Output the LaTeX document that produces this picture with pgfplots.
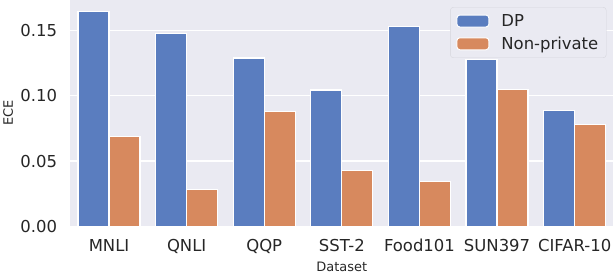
\documentclass[border=0pt]{standalone}
\usepackage{fontspec}
\setmainfont{DejaVu Sans}
\usepackage{pgfplots}
\pgfplotsset{compat=1.18}
\definecolor{bgc}{HTML}{EAEAF2}
\definecolor{dpc}{HTML}{5A7DBF}
\definecolor{npc}{HTML}{D7895E}
\definecolor{txt}{HTML}{262626}
\definecolor{legedge}{HTML}{D5D5DC}
\begin{document}
\begin{tikzpicture}
\begin{axis}[
  width=543bp, height=226bp, scale only axis,
  xmin=-0.5, xmax=6.5, ymin=0, ymax=0.1735,
  axis background/.style={fill=bgc},
  axis line style={draw=none},
  ymajorgrids, grid style={white, line width=1.1bp},
  xtick={0,1,2,3,4,5,6},
  xticklabels={MNLI,QNLI,QQP,SST-2,Food101,SUN397,CIFAR-10},
  ytick={0,0.05,0.1,0.15},
  major tick length=0pt,
  tick label style={font=\fontsize{16.5}{19}\selectfont, text=txt, inner sep=0pt},
  yticklabel style={/pgf/number format/fixed,/pgf/number format/fixed zerofill,/pgf/number format/precision=2},
  /pgf/number format/assume math mode=true,
  yticklabel shift=13bp,
  xticklabel shift=13bp,
  every axis y label/.style={at={(rel axis cs:0,0.5)}, xshift=-62bp, rotate=90, anchor=center, font=\fontsize{13}{15}\selectfont, text=txt},
  every axis x label/.style={at={(rel axis cs:0.5,0)}, yshift=-41bp, anchor=center, font=\fontsize{13}{15}\selectfont, text=txt},
  ylabel={ECE}, xlabel={Dataset},
  ybar, bar width=0.4,
  legend style={at={(rel axis cs:1,1)}, anchor=north east, xshift=-7bp, yshift=-7bp,
    fill=bgc, draw=legedge, rounded corners=3bp, font=\fontsize{16.5}{19}\selectfont, text=txt,
    row sep=5bp, inner xsep=6bp, inner ysep=5bp,
    /tikz/every odd column/.append style={column sep=10bp}},
  legend cell align=left,
]
\addplot[fill=dpc, draw=white, line width=1.2bp, bar shift=-0.2,
  legend image code/.code={\draw[fill=dpc, draw=white, line width=1bp] (0bp,-6bp) rectangle (32bp,6bp);}]
  coordinates {(0,0.165) (1,0.148) (2,0.129) (3,0.1045) (4,0.1535) (5,0.128) (6,0.0885)};
\addlegendentry{DP}
\addplot[fill=npc, draw=white, line width=1.2bp, bar shift=0.2,
  legend image code/.code={\draw[fill=npc, draw=white, line width=1bp] (0bp,-6bp) rectangle (32bp,6bp);}]
  coordinates {(0,0.069) (1,0.028) (2,0.088) (3,0.0425) (4,0.034) (5,0.105) (6,0.0778)};
\addlegendentry{Non-private}
\end{axis}
\end{tikzpicture}
\end{document}
